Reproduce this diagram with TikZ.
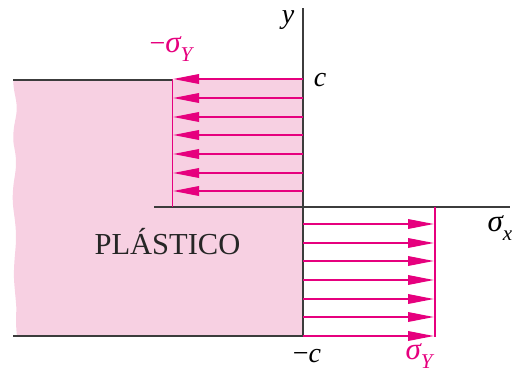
\documentclass[tikz,border=0pt]{standalone}
\usepackage{fontspec}
\setmainfont{Liberation Serif}
\usetikzlibrary{arrows.meta}
\definecolor{mag}{HTML}{E6007E}
\definecolor{pinkfill}{HTML}{F7D0E2}
\definecolor{axisgray}{HTML}{3C3C3C}
\newcommand{\bigf}{\fontsize{28}{28}\selectfont}
\newcommand{\sigf}{\fontsize{31}{31}\selectfont}
\newcommand{\subf}{\fontsize{21}{21}\selectfont}
\tikzset{
  axisline/.style={draw=axisgray, line width=1.6pt},
  stressarrow/.style={draw=mag, line width=1.9pt, -{Triangle[length=26pt,width=9.5pt]}},
  limitline/.style={draw=mag, line width=1.5pt},
  lbl/.style={inner sep=0pt, font=\bigf},
  maglbl/.style={lbl, text=mag}
}
\begin{document}
\begin{tikzpicture}[x=1pt,y=-1pt]
\useasboundingbox (0,0) rectangle (517,375);
% pink plastic region with wavy left edge
\fill[pinkfill] (13.3,80) -- (303,80) -- (303,336) -- (17,336)
  .. controls (15,320) and (17,312) .. (16,303)
  .. controls (15,290) and (13.5,280) .. (14,270)
  .. controls (14.5,255) and (16,248) .. (16,237)
  .. controls (16,220) and (12.5,210) .. (12.7,197)
  .. controls (13,180) and (16,175) .. (16,163)
  .. controls (16,150) and (13,147) .. (13.3,137)
  .. controls (13.5,122) and (17,118) .. (16.7,107)
  .. controls (16.5,98) and (13.3,92) .. (13.3,80) -- cycle;
% outline lines
\coordinate (tl) at (13,80);
\coordinate (tr) at (173,80);
\coordinate (bl) at (13,336);
\coordinate (br) at (303,336);
\draw[axisline] (tl) -- (tr);
\draw[axisline] (bl) -- (br);
% axes
\coordinate (ytop) at (303,8);
\coordinate (ybot) at (303,337);
\coordinate (xl) at (154,207);
\coordinate (xr) at (510,207);
\draw[axisline] (ytop) -- (ybot);
\draw[axisline] (xl) -- (xr);
% limit lines
\coordinate (ltop) at (172.5,79);
\coordinate (lbot) at (172.5,207);
\coordinate (rtop) at (435,207);
\coordinate (rbot) at (435,337);
\draw[limitline] (ltop) -- (lbot);
\draw[limitline] (rtop) -- (rbot);
% compressive arrows (upper)
\foreach \yy [count=\i] in {79,98,117,135,154,173,191}{
  \coordinate (ua\i) at (303,\yy);
  \coordinate (ub\i) at (173,\yy);
  \draw[stressarrow] (ua\i) -- (ub\i);
}
% tensile arrows (lower)
\foreach \yy [count=\i] in {224,243,261,280,299,317,336}{
  \coordinate (la\i) at (303,\yy);
  \coordinate (lb\i) at (434,\yy);
  \draw[stressarrow] (la\i) -- (lb\i);
}
% labels
\node[lbl] (ylab) at (288,20) {\itshape y};
\node[maglbl] (msy) at (171,49) {−{\sigf\itshape σ\raisebox{-0.3em}{\subf Y}}};
\node[lbl] (clab) at (320,80) {\itshape c};
\node[lbl] (sx) at (500,228) {{\sigf\itshape σ\raisebox{-0.3em}{\subf x}}};
\node[lbl] (mclab) at (307,356) {−{\itshape c}};
\node[maglbl] (sy) at (419,356) {{\sigf\itshape σ\raisebox{-0.3em}{\subf Y}}};
\node[inner sep=0pt, anchor=base, font=\fontsize{30.5}{30.5}\selectfont, text=black!85] (pl) at (167.5,254) {PLÁSTICO};
\end{tikzpicture}
\end{document}
